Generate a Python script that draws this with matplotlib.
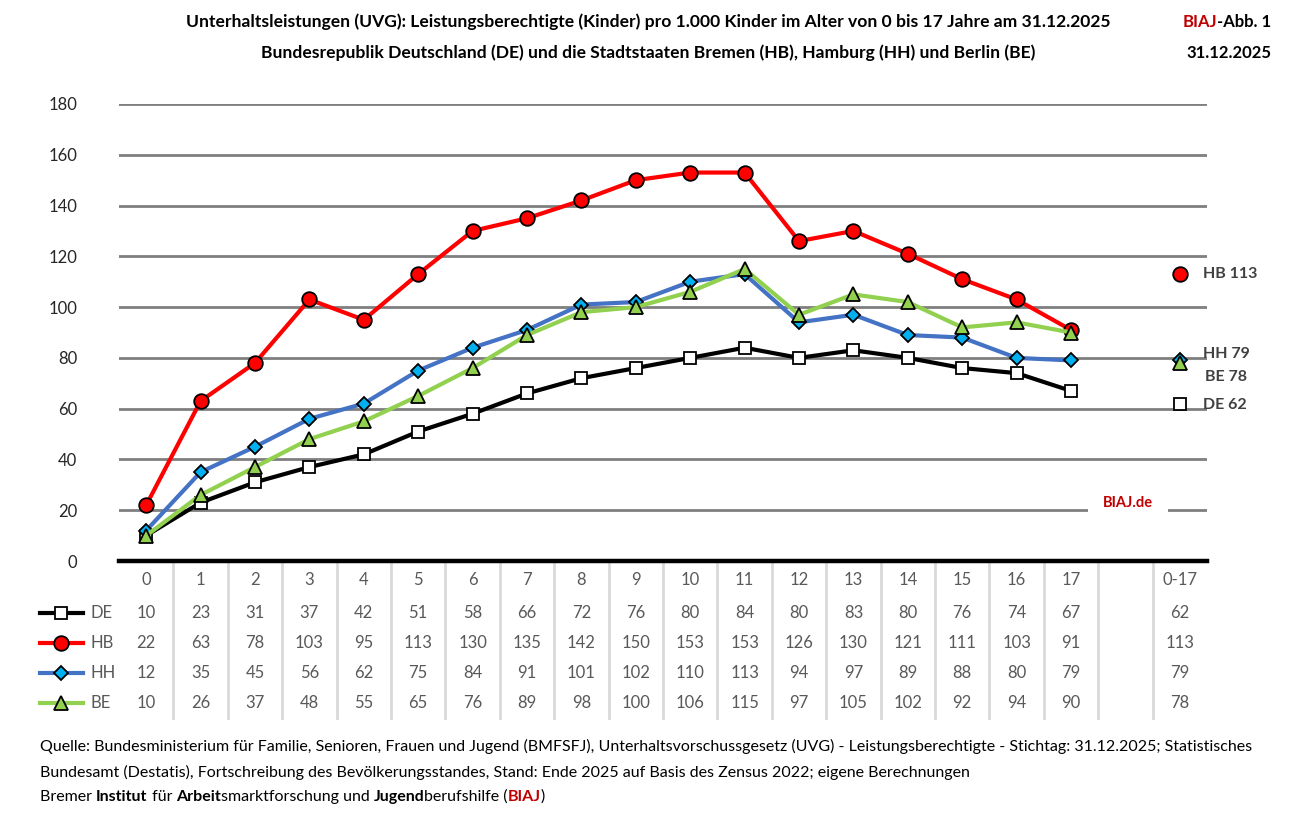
import numpy as np
import matplotlib
matplotlib.use("Agg")
import matplotlib.pyplot as plt
from matplotlib.transforms import IdentityTransform

plt.rcParams['font.family'] = ['Lato', 'DejaVu Sans']

# Daten: Leistungsberechtigte pro 1.000 Kinder nach Alter
alter = [str(i) for i in range(18)]
de = [10, 23, 31, 37, 42, 51, 58, 66, 72, 76, 80, 84, 80, 83, 80, 76, 74, 67]
hb = [22, 63, 78, 103, 95, 113, 130, 135, 142, 150, 153, 153, 126, 130, 121, 111, 103, 91]
hh = [12, 35, 45, 56, 62, 75, 84, 91, 101, 102, 110, 113, 94, 97, 89, 88, 80, 79]
be = [10, 26, 37, 48, 55, 65, 76, 89, 98, 100, 106, 115, 97, 105, 102, 92, 94, 90]
gesamt_label = "0-17"
gesamt = {"DE": 62, "HB": 113, "HH": 79, "BE": 78}

series = [
    ("DE", de, dict(color='black', marker='s', mfc='white', mec='black', ms=9)),
    ("HB", hb, dict(color='#ff0000', marker='o', mfc='#ff0000', mec='black', ms=10.5)),
    ("HH", hh, dict(color='#4472c4', marker='D', mfc='#00b0f0', mec='black', ms=7)),
    ("BE", be, dict(color='#92d050', marker='^', mfc='#92d050', mec='black', ms=10)),
]

W, H = 1289, 815
fig = plt.figure(figsize=(W / 100, H / 100), dpi=100)
ax = fig.add_axes([119 / W, 1 - 561 / H, 1088 / W, 457 / H])

x = np.arange(len(alter))
for name, vals, st in series:
    ax.plot(x, vals, lw=3, mew=1.3, zorder=3, **st)

# Gesamtwerte 0-17 rechts
for name, vals, st in series:
    st2 = dict(st)
    st2.pop('color')
    ax.plot([19], [gesamt[name]], linestyle='none', mew=1.3, zorder=4, clip_on=False, **st2)

lab_kw = dict(fontsize=11.5, fontweight='bold', color='#404040', va='center', ha='left')
ax.text(19.43, gesamt["HB"], "HB %d" % gesamt["HB"], **lab_kw)
ax.text(19.43, gesamt["HH"] + 2.5, "HH %d" % gesamt["HH"], **lab_kw)
ax.text(19.47, gesamt["BE"] - 5.5, "BE %d" % gesamt["BE"], **lab_kw)
ax.text(19.43, gesamt["DE"] - 0.5, "DE %d" % gesamt["DE"], **lab_kw)

ax.text(18.05, 22.8, "BIAJ.de", fontsize=10.5, fontweight='bold', color='#c00000',
        ha='center', va='center', zorder=2,
        bbox=dict(boxstyle='square,pad=1.0', fc='white', ec='none'))

ax.set_xlim(-0.5, 19.5)
ax.set_ylim(0, 180)
ax.set_yticks(range(0, 181, 20))
ax.tick_params(axis='y', length=0, pad=30, labelsize=12, labelcolor='#262626')
ax.set_xticks([])
ax.yaxis.grid(True, color='#7f7f7f', lw=2)
ax.set_axisbelow(True)
for s in ax.spines.values():
    s.set_visible(False)
ax.axhline(0, color='black', lw=3.2, zorder=2, clip_on=False)

# Datentabelle unter dem Diagramm
py = 180 / 457.0
def row_y(pix):
    return -(pix - 561) * py

for k in range(19):
    ax.plot([k + 0.5, k + 0.5], [0, row_y(718)], color='#d9d9d9', lw=2, clip_on=False, zorder=1)

tab_kw = dict(fontsize=12, color='#595959', ha='center', va='center')
cols = alter + ["", gesamt_label]
for i, c in enumerate(cols):
    ax.text(i, row_y(580), c, **tab_kw)
rows_y = [613, 643, 673, 703]
for (name, vals, st), ry in zip(series, rows_y):
    yy = row_y(ry)
    for i, v in enumerate(vals):
        ax.text(i, yy, str(v), **tab_kw)
    ax.text(19, yy, str(gesamt[name]), **tab_kw)
    ax.plot([-1.95, -1.16], [yy, yy], lw=3, color=st['color'], clip_on=False)
    st2 = dict(st)
    st2.pop('color')
    ax.plot([-1.56], [yy], linestyle='none', mew=1.3, clip_on=False, **st2)
    ax.text(-1.03, yy, name, fontsize=12, color='#595959', ha='left', va='center')

# Text mit gemischten Stilen
fig.canvas.draw()
rend = fig.canvas.get_renderer()

def rich(px, py_top, parts, ha='left', size=11):
    ts = []
    for txt, wt, col in parts:
        t = fig.text(0, 0, txt, fontsize=size, fontweight=wt, color=col,
                     transform=IdentityTransform(), va='center', ha='left')
        ts.append(t)
    widths = [t.get_window_extent(rend).width for t in ts]
    total = sum(widths)
    x0 = px
    if ha == 'center':
        x0 = px - total / 2
    elif ha == 'right':
        x0 = px - total
    for t, w in zip(ts, widths):
        t.set_position((x0, H - py_top))
        x0 += w

K, R = 'black', '#c00000'
rich(648, 22, [("Unterhaltsleistungen (UVG): Leistungsberechtigte (Kinder) pro 1.000 Kinder im Alter von 0 bis 17 Jahre am 31.12.2025", 'bold', K)], ha='center', size=12.6)
rich(648, 53, [("Bundesrepublik Deutschland (DE) und die Stadtstaaten Bremen (HB), Hamburg (HH) und Berlin (BE)", 'bold', K)], ha='center', size=12.6)
rich(1271, 22, [("BIAJ", 'bold', R), ("-Abb. 1", 'bold', K)], ha='right', size=12)
rich(1271, 53, [("31.12.2025", 'bold', K)], ha='right', size=12)

rich(40, 746, [("Quelle: Bundesministerium für Familie, Senioren, Frauen und Jugend (BMFSFJ), Unterhaltsvorschussgesetz (UVG) - Leistungsberechtigte - Stichtag: 31.12.2025; Statistisches", 'normal', K)], size=11.5)
rich(40, 772, [("Bundesamt (Destatis), Fortschreibung des Bevölkerungsstandes, Stand: Ende 2025 auf Basis des Zensus 2022; eigene Berechnungen", 'normal', K)], size=11.5)
rich(40, 797, [("Bremer ", 'normal', K), ("Institut", 'bold', K), (" für ", 'normal', K),
               ("Arbeit", 'bold', K), ("smarktforschung und ", 'normal', K),
               ("Jugend", 'bold', K), ("berufshilfe (", 'normal', K),
               ("BIAJ", 'bold', R), (")", 'normal', K)], size=11.5)

fig.savefig("out.png", dpi=100)
